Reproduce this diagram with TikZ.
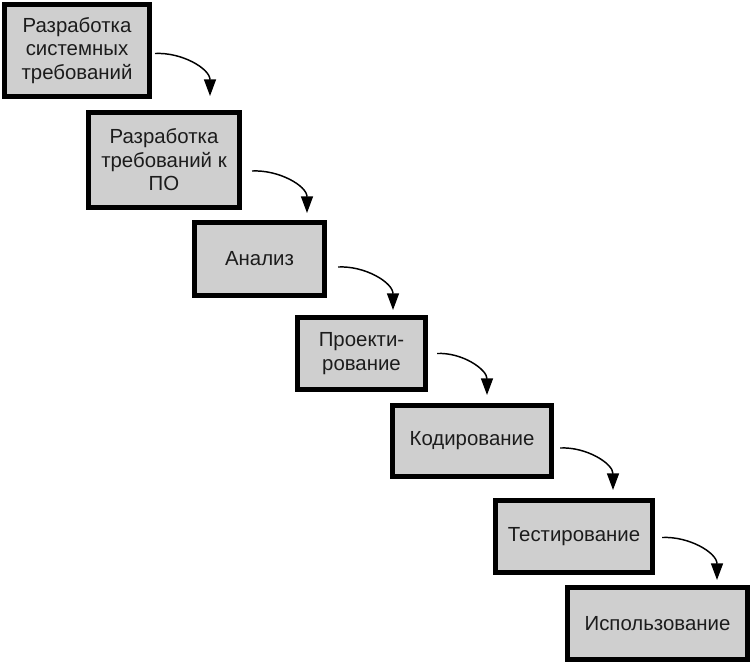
\documentclass[tikz,border=0pt]{standalone}
\usepackage{fontspec}
\setmainfont{Liberation Sans}
\usepackage{xcolor}
\usetikzlibrary{arrows.meta}

\definecolor{stagefill}{RGB}{207,207,207}
\definecolor{stagetext}{RGB}{28,28,28}

\tikzset{
  stage/.style={draw=black, line width=3.75pt, fill=stagefill, text=stagetext,
    align=center, inner sep=0pt, font=\fontsize{15.3}{17.6}\selectfont},
  flow/.style={line width=1.1pt, -{Triangle[width=9pt,length=12.5pt]}}
}

\begin{document}
\begin{tikzpicture}[x=0.75pt,y=0.75pt,yscale=-1,xscale=1]
\useasboundingbox (0,0) rectangle (752,664);

%Shape: Rectangle [stage 1]
\node (sysreq) [stage, minimum width=108.75pt, minimum height=69pt] at (77,50.5) {Разработка\\системных\\требований};
%Shape: Rectangle [stage 2]
\node (swreq) [stage, minimum width=113.25pt, minimum height=71.25pt] at (164,160) {Разработка\\требований к\\ПО};
%Shape: Rectangle [stage 3]
\node (analysis) [stage, minimum width=97.5pt, minimum height=54.75pt] at (259.5,259) {Анализ};
%Shape: Rectangle [stage 4]
\node (design) [stage, minimum width=96pt, minimum height=54pt] at (361.5,353.5) {Проекти-\\рование};
%Shape: Rectangle [stage 5]
\node (coding) [stage, minimum width=119.25pt, minimum height=53.25pt] at (472,441) {Кодирование};
%Shape: Rectangle [stage 6]
\node (testing) [stage, minimum width=117.75pt, minimum height=54pt] at (574,536.5) {Тестирование};
%Shape: Rectangle [stage 7]
\node (usage) [stage, minimum width=135pt, minimum height=54pt] at (657.5,623.5) {Использование};

%Arrow tips
\coordinate (tip1) at (210,96);
\coordinate (tip2) at (307,213);
\coordinate (tip3) at (393,310);
\coordinate (tip4) at (487,395);
\coordinate (tip5) at (613,490);
\coordinate (tip6) at (717,580);

%Curved Lines
\draw [flow] ([shift={(3,3)}]sysreq.east) to[out=-3,in=270] (tip1);
\draw [flow] ([shift={(10,11)}]swreq.east) to[out=-3,in=270] (tip2);
\draw [flow] ([shift={(11,8)}]analysis.east) to[out=-3,in=270] (tip3);
\draw [flow] ([shift={(9,0)}]design.east) to[out=-3,in=270] (tip4);
\draw [flow] ([shift={(6,7)}]coding.east) to[out=-3,in=270] (tip5);
\draw [flow] ([shift={(7,1)}]testing.east) to[out=-3,in=270] (tip6);

\end{tikzpicture}
\end{document}
